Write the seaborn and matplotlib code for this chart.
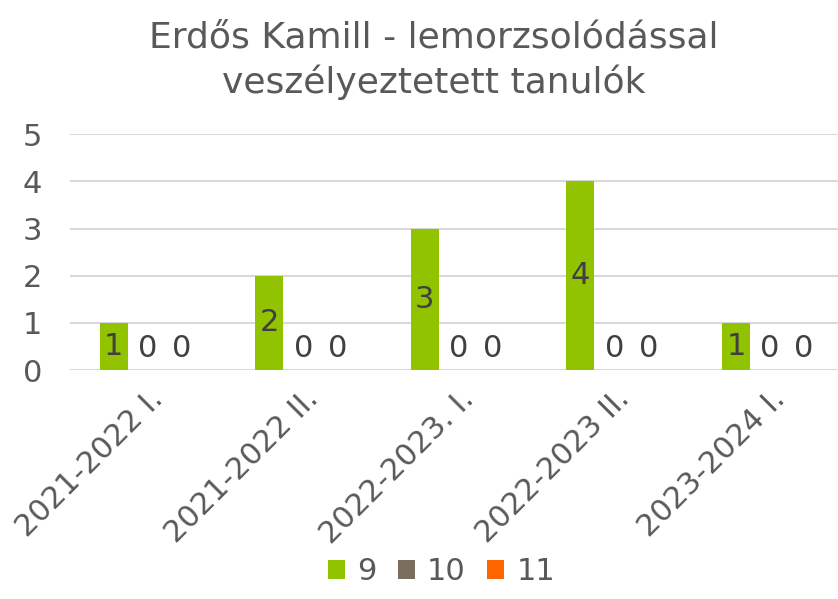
import pandas as pd
import matplotlib
matplotlib.use("Agg")
import matplotlib.pyplot as plt
import seaborn as sns

# chart data
periods = ["2021-2022 I.", "2021-2022 II.", "2022-2023. I.", "2022-2023 II.", "2023-2024 I."]
grades = ["9", "10", "11"]
grade9 = [1, 2, 3, 4, 1]
grade10 = [0, 0, 0, 0, 0]
grade11 = [0, 0, 0, 0, 0]
colors = ["#92C300", "#7A6F5E", "#FF6600"]
title = "Erdős Kamill - lemorzsolódással\nveszélyeztetett tanulók"

TEXT = "#595959"
FS = 22

sns.set_theme(style="white")
plt.rcParams["font.family"] = ["DejaVu Sans"]

df = pd.DataFrame({
    "period": periods * 3,
    "grade": [g for g in grades for _ in periods],
    "count": grade9 + grade10 + grade11,
})

fig = plt.figure(figsize=(8.38, 5.99), dpi=100)
ax = fig.add_axes([0.0835, 0.382, 0.928, 0.394])

sns.barplot(data=df, x="period", y="count", hue="grade", hue_order=grades,
            palette=colors, width=0.655, gap=0.175, saturation=1,
            errorbar=None, ax=ax, legend=True, linewidth=0)

ax.set_ylim(0, 5)
ax.set_xlim(-0.5, 4.5)
ax.set_yticks(range(6))
ax.yaxis.grid(True, color="#D9D9D9", lw=1.5)
ax.set_axisbelow(True)
for s in ax.spines.values():
    s.set_visible(False)
ax.set_xlabel("")
ax.set_ylabel("")
ax.tick_params(axis="y", length=0, pad=20, labelsize=FS, labelcolor=TEXT)
ax.tick_params(axis="x", length=0, pad=10, labelsize=FS, labelcolor=TEXT)
plt.setp(ax.get_xticklabels(), rotation=45, ha="right", rotation_mode="anchor")

# data labels: centered in bar, zero labels sit on the baseline
for cont in ax.containers:
    for p in cont.patches:
        h = p.get_height()
        x = p.get_x() + p.get_width() / 2
        if h > 0:
            ax.text(x, h / 2, f"{h:g}", ha="center", va="center", fontsize=FS, color="#404040")
        else:
            ax.annotate("0", (x, 0), xytext=(0, 5), textcoords="offset points",
                        ha="center", va="bottom", fontsize=FS, color="#404040")

fig.text(0.518, 0.965, title, ha="center", va="top", fontsize=26, color=TEXT, linespacing=1.35)

handles, labels = ax.get_legend_handles_labels()
ax.get_legend().remove()
fig.legend(handles, labels, loc="lower center", bbox_to_anchor=(0.527, -0.025), ncol=3,
           frameon=False, fontsize=FS, labelcolor=TEXT, handlelength=0.55, handleheight=0.55,
           handletextpad=0.4, columnspacing=0.7)

fig.savefig("out.png", dpi=100, facecolor="white")
